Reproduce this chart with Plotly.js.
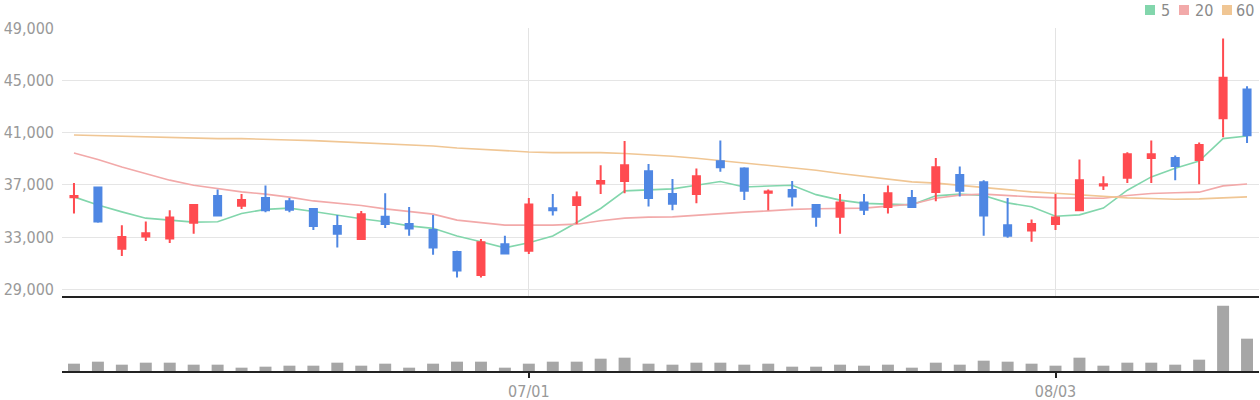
<!DOCTYPE html>
<html>
<head>
<meta charset="utf-8">
<script src="https://cdn.plot.ly/plotly-3.0.1.min.js"></script>
<style>
  html, body { margin: 0; padding: 0; background: #fff; }
  #chart { width: 1260px; height: 400px; }
</style>
</head>
<body>
<div id="chart"></div>
<script>
// ---- data ----
const dates = [
  '06/04','06/05','06/08','06/09','06/10','06/11','06/12','06/15','06/16','06/17',
  '06/18','06/19','06/22','06/23','06/24','06/25','06/26','06/29','06/30','07/01',
  '07/02','07/03','07/06','07/07','07/08','07/09','07/10','07/13','07/14','07/15',
  '07/16','07/17','07/20','07/21','07/22','07/23','07/24','07/27','07/28','07/29',
  '07/30','08/03','08/04','08/05','08/06','08/07','08/10','08/11','08/12','08/13'
];
const openP = [
  36050,36800,32100,33050,32900,34100,36150,35400,36000,35750,
  35150,33850,32850,34550,34000,33550,31850,30100,32450,31950,
  35200,35450,37100,37300,38050,36300,36300,38800,38250,36400,
  36600,35450,34550,35650,35300,36000,36450,37750,37200,33900,
  33500,34000,35050,36950,37550,39050,39050,38900,42100,44300
];
const highP = [
  37150,36850,33900,34200,35050,35450,36650,36300,36950,36000,
  35200,34700,35000,36350,35300,34700,31950,32850,33100,36000,
  36300,36500,38500,40350,38600,37450,38250,40400,38350,36650,
  37300,35450,36300,36300,36950,36600,39050,38400,37350,36000,
  34350,36300,38950,37650,39500,40400,39250,40250,48200,44550
];
const lowP = [
  34800,34100,31550,32700,32550,33250,34600,35150,34900,34900,
  33550,32200,32800,33700,33100,31650,29900,29900,31700,31700,
  34650,34000,36300,36350,35350,35050,35600,38000,35850,35050,
  35350,33800,33250,34700,34800,35250,35750,36100,33100,32950,
  32650,33550,35000,36600,37150,37150,37350,37050,40650,40200
];
const closeP = [
  36150,34200,33000,33300,34500,35450,34650,35850,35050,35100,
  33850,33250,34750,34000,33650,32200,30450,32600,31750,35500,
  35050,36050,37300,38500,36000,35550,37650,38350,36550,36500,
  36100,34550,35650,35100,36350,35300,38350,36550,34650,33100,
  34000,34500,37350,37050,39350,39350,38450,40050,45200,40800
];
const ma5 = [
  36080,35450,34930,34450,34300,34150,34170,34810,35120,35220,
  34960,34660,34400,34170,33860,33670,33080,32640,32180,32570,
  33080,34120,35190,36540,36590,36690,36970,37260,36840,36900,
  36970,36250,35830,35580,35520,35470,36160,36290,36190,35620,
  35320,34600,34700,35220,36590,37610,38270,38830,40540,40740
];
const ma20 = [
  39440,38940,38370,37840,37360,36970,36690,36460,36290,36060,
  35770,35580,35420,35160,34950,34760,34300,34120,33920,33920,
  33920,33990,34250,34450,34530,34550,34680,34830,34910,35010,
  35120,35170,35190,35220,35370,35520,35980,36210,36290,36160,
  36080,36000,35980,35980,36190,36340,36390,36440,36920,37070
];
const ma60 = [
  40820,40770,40720,40640,40620,40540,40540,40540,40470,40440,
  40390,40310,40240,40160,40080,39980,39820,39720,39590,39520,
  39470,39470,39470,39400,39320,39190,39040,38860,38680,38500,
  38300,38120,37870,37660,37460,37230,37130,36970,36820,36670,
  36460,36360,36230,36080,36000,35960,35900,35930,36000,36080
];
const volume = [
  220000,280000,190000,250000,250000,190000,190000,100000,130000,160000,
  160000,250000,160000,220000,100000,220000,280000,280000,100000,220000,
  280000,280000,370000,400000,220000,190000,250000,250000,190000,220000,
  130000,130000,190000,160000,190000,100000,250000,190000,310000,280000,
  220000,160000,400000,160000,250000,250000,190000,340000,1960000,970000
];
const xTickLabels = ['07/01','08/03'];
const priceTicks = [29000,33000,37000,41000,45000,49000];
const maNames = ['5','20','60'];
const maColors = ['#82d6ac','#f2a9a9','#f0c694'];

// ---- styles ----
const UP = '#ff4b50', DOWN = '#4f87e3';
const W = 1260, H = 400;
const M = {l: 62, r: 1, t: 28, b: 29};
const plotW = W - M.l - M.r, plotH = H - M.t - M.b;
const volTopPx = 296;                      // separator line position
const dv = (H - M.b - volTopPx) / plotH;   // volume domain top
const FONT = '"DejaVu Sans Condensed", "Liberation Sans", Arial, sans-serif';
const px2fx = x => (x - M.l) / plotW;
const px2fy = y => (H - M.b - y) / plotH;

const traces = [];
const maData = [ma5, ma20, ma60];
maData.forEach((m, i) => {
  traces.push({
    type: 'scatter', mode: 'lines', x: dates, y: m,
    xaxis: 'x2', yaxis: 'y2', name: maNames[i],
    line: {color: maColors[i], width: 1.6},
    hoverinfo: 'skip', showlegend: false
  });
});
traces.push({
  type: 'candlestick', x: dates,
  open: openP, high: highP, low: lowP, close: closeP,
  xaxis: 'x2', yaxis: 'y3', whiskerwidth: 0,
  increasing: {line: {color: UP, width: 2}, fillcolor: UP},
  decreasing: {line: {color: DOWN, width: 2}, fillcolor: DOWN},
  hoverinfo: 'skip', showlegend: false
});
traces.push({
  type: 'bar', x: dates, y: volume, xaxis: 'x', yaxis: 'y',
  marker: {color: '#a6a6a6'}, hoverinfo: 'skip', showlegend: false
});

// legend made of small squares + labels (top-right)
const legSq = [[1145,1155],[1179,1189],[1222,1232]];
const legTx = [1159,1193,1234];
const shapes = legSq.map((s, i) => ({
  type: 'rect', xref: 'paper', yref: 'paper',
  x0: px2fx(s[0]), x1: px2fx(s[1]), y0: px2fy(15), y1: px2fy(5),
  line: {width: 0}, fillcolor: maColors[i]
}));
const annotations = maNames.map((n, i) => ({
  xref: 'paper', yref: 'paper', x: px2fx(legTx[i]), y: px2fy(10.5),
  xanchor: 'left', yanchor: 'middle', showarrow: false, text: n,
  font: {family: FONT, size: 16, color: '#8a8a8a'}
}));

const PRANGE = [28490, 49010];
const layout = {
  width: W, height: H, margin: M,
  paper_bgcolor: '#ffffff', plot_bgcolor: '#ffffff',
  font: {family: FONT, size: 16, color: '#999'},
  showlegend: false, hovermode: false,
  bargap: 0.5, boxgap: 0.58,
  xaxis: {
    type: 'category', anchor: 'y', domain: [0, 1], range: [-0.5, dates.length - 0.5],
    tickmode: 'array', tickvals: xTickLabels, ticktext: xTickLabels,
    ticks: 'outside', ticklen: 5, tickwidth: 2, tickcolor: '#222',
    showline: true, linewidth: 2, linecolor: '#222', showgrid: false,
    tickfont: {family: FONT, size: 16, color: '#999'},
    rangeslider: {visible: false}, fixedrange: true
  },
  xaxis2: {
    type: 'category', anchor: 'y2', matches: 'x', domain: [0, 1],
    tickmode: 'array', tickvals: xTickLabels,
    showticklabels: false, ticks: '',
    showline: true, linewidth: 2, linecolor: '#222',
    showgrid: true, gridcolor: '#e3e3e3', gridwidth: 1,
    rangeslider: {visible: false}, fixedrange: true
  },
  yaxis: {
    domain: [0, dv], anchor: 'x', range: [0, 2250000],
    showgrid: false, showticklabels: false, zeroline: false, ticks: '', fixedrange: true
  },
  yaxis2: {
    domain: [dv, 1], anchor: 'x2', range: PRANGE,
    tickmode: 'array', tickvals: priceTicks, tickformat: ',',
    showgrid: true, gridcolor: '#e5e5e5', gridwidth: 1, zeroline: false,
    ticks: '', ticklabelstandoff: 7,
    tickfont: {family: FONT, size: 16, color: '#999'}, fixedrange: true
  },
  yaxis3: {
    overlaying: 'y2', anchor: 'x2', range: PRANGE,
    visible: false, showgrid: false, zeroline: false, fixedrange: true
  },
  shapes: shapes,
  annotations: annotations
};

Plotly.newPlot('chart', traces, layout, {displayModeBar: false, staticPlot: true});
</script>
</body>
</html>
